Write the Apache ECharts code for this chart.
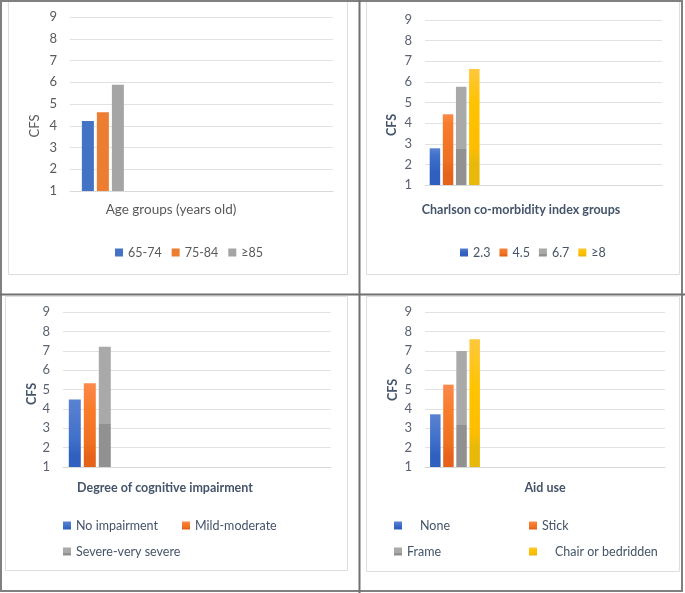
<!DOCTYPE html>
<html><head><meta charset="utf-8">
<script src="https://cdn.jsdelivr.net/npm/echarts@6/dist/echarts.min.js"></script>
<style>html,body{margin:0;padding:0;background:#fff}#c{width:685px;height:593px}</style>
</head><body><div id="c"></div>
<script>
// ---- data ----
const yTicks = [1, 2, 3, 4, 5, 6, 7, 8, 9];
const yName = 'CFS';
const ageGroups = ['65-74', '75-84', '≥85'];
const ageCFS = [4.22, 4.62, 5.88];
const charlsonGroups = ['2.3', '4.5', '6.7', '≥8'];
const charlsonCFS = [2.78, 4.43, 5.76, 6.63];
const cognitiveGroups = ['No impairment', 'Mild-moderate', 'Severe-very severe'];
const cognitiveCFS = [4.48, 5.32, 7.21];
const aidGroups = ['None', 'Stick', 'Frame', 'Chair or bedridden'];
const aidCFS = [3.72, 5.25, 6.99, 7.59];
const panelTitles = ['Age groups (years old)', 'Charlson co-morbidity index groups', 'Degree of cognitive impairment', 'Aid use'];

// ---- styling / layout ----
const FONT = 'Lato';
const BASE = yTicks[0];
const flatColors = ['#4472c4', '#ed7d31', '#a5a5a5', '#ffc000'];
// banded looks (value level -> colour, top to bottom)
function bands(kind, v, grayStep) {
  const lv = {
    0: [[v, '#5a82d2'], [2.4, '#4070ca'], [1.6, '#2f60bf'], [BASE, '#2f60bf']],
    1: [[v, '#fa8a4c'], [4.0, '#f97c2c'], [2.2, '#ee7020'], [1.5, '#e5621a'], [BASE, '#e5621a']],
    2: [[v, '#a9a9a9'], [grayStep + 0.001, '#a9a9a9'], [grayStep, '#919191'], [BASE, '#919191']],
    3: [[v, '#ffc83c'], [5.0, '#ffc300'], [2.8, '#ffbd00'], [2.1, '#e9b909'], [BASE, '#e9b909']]
  }[kind];
  return {
    type: 'linear', x: 0, y: 0, x2: 0, y2: 1,
    colorStops: lv.map(([l, c]) => ({ offset: Math.min(1, Math.max(0, (v - l) / (v - BASE))), color: c }))
  };
}

const panels = [
  { groups: ageGroups, values: ageCFS, slots: 4, grid: { left: 70, right: 352, top: 17, bottom: 402 }, barW: 12, banded: false,
    yColor: '#595959', nameBold: false, namePos: [35, 126] },
  { groups: charlsonGroups, values: charlsonCFS, slots: 4, grid: { left: 425, right: 23, top: 20, bottom: 408 }, barW: 10.5, banded: true, gray: 2.73,
    yColor: '#5b6272', nameBold: true, namePos: [392, 125] },
  { groups: cognitiveGroups, values: cognitiveCFS, slots: 5, grid: { left: 63, right: 354, top: 312, bottom: 126 }, barW: 12, banded: true, gray: 3.22,
    yColor: '#5b6272', nameBold: true, namePos: [32, 394] },
  { groups: aidGroups, values: aidCFS, slots: 4, grid: { left: 425, right: 20, top: 312, bottom: 126 }, barW: 10.5, banded: true, gray: 3.15,
    yColor: '#5b6272', nameBold: true, namePos: [393, 390] }
];

const grid = [], xAxis = [], yAxis = [], series = [];
panels.forEach((p, pi) => {
  grid.push(p.grid);
  xAxis.push({
    type: 'category', gridIndex: pi, data: Array.from({ length: p.slots }, () => ''),
    axisLine: { show: true, lineStyle: { color: '#d9d9d9' } }, axisTick: { show: false }, axisLabel: { show: false }
  });
  yAxis.push({
    type: 'value', gridIndex: pi, min: yTicks[0], max: yTicks[yTicks.length - 1], interval: 1,
    axisLine: { show: false }, axisTick: { show: false },
    splitLine: { lineStyle: { color: '#e2e2e2' } },
    axisLabel: { fontSize: 13, color: p.yColor, fontFamily: FONT, margin: 13 }
  });
  p.groups.forEach((g, i) => {
    const v = p.values[i];
    series.push({
      type: 'bar', name: g, xAxisIndex: pi, yAxisIndex: pi,
      barWidth: p.barW, barGap: '25%',
      data: Array.from({ length: p.slots }, (_, k) => (k === 0 ? v : null)),
      itemStyle: { color: p.banded ? bands(i, v, p.gray) : flatColors[i] },
      emphasis: { disabled: true }, animation: false
    });
  });
});

const legBase = { orient: 'horizontal', padding: 0, icon: 'rect', itemWidth: 8, itemHeight: 8, selectedMode: false };
const ts = (c, extra) => Object.assign({ fontSize: 12.5, color: c, fontFamily: FONT }, extra || {});
const legend = [
  Object.assign({}, legBase, { data: ageGroups, left: 115, top: 246, itemGap: 10, textStyle: ts('#595959') }),
  Object.assign({}, legBase, { data: charlsonGroups, left: 460, top: 246, itemGap: 9, textStyle: ts('#44546a') }),
  Object.assign({}, legBase, { data: [cognitiveGroups[0]], left: 63, top: 519, textStyle: ts('#44546a') }),
  Object.assign({}, legBase, { data: [cognitiveGroups[1]], left: 182, top: 519, textStyle: ts('#44546a') }),
  Object.assign({}, legBase, { data: [cognitiveGroups[2]], left: 63, top: 545, textStyle: ts('#44546a') }),
  Object.assign({}, legBase, { data: [aidGroups[0]], left: 394, top: 519, textStyle: ts('#44546a', { padding: [0, 0, 0, 13] }) }),
  Object.assign({}, legBase, { data: [aidGroups[1]], left: 529, top: 519, textStyle: ts('#44546a') }),
  Object.assign({}, legBase, { data: [aidGroups[2]], left: 394, top: 545, textStyle: ts('#44546a') }),
  Object.assign({}, legBase, { data: [aidGroups[3]], left: 529, top: 545, textStyle: ts('#44546a', { padding: [0, 0, 0, 13] }) })
];

const titlePos = [[171, 210, false], [521, 210, true], [165, 488, true], [545, 488, true]];
const graphic = [
  // inner chart-area boxes
  { type: 'rect', shape: { x: 8.5, y: 1.5, width: 339, height: 273 }, style: { fill: 'none', stroke: '#dedede', lineWidth: 1 }, silent: true },
  { type: 'rect', shape: { x: 366.5, y: 1.5, width: 313, height: 273 }, style: { fill: 'none', stroke: '#dedede', lineWidth: 1 }, silent: true },
  { type: 'rect', shape: { x: 5.5, y: 296.5, width: 342, height: 274 }, style: { fill: 'none', stroke: '#dedede', lineWidth: 1 }, silent: true },
  { type: 'rect', shape: { x: 366.5, y: 296.5, width: 313, height: 275 }, style: { fill: 'none', stroke: '#dedede', lineWidth: 1 }, silent: true },
  // outer frame and dividers
  { type: 'rect', shape: { x: 1, y: 1, width: 681, height: 590 }, style: { fill: 'none', stroke: '#808080', lineWidth: 2 }, silent: true },
  { type: 'line', shape: { x1: 359.5, y1: 0, x2: 359.5, y2: 593 }, style: { stroke: '#707070', lineWidth: 2 }, silent: true },
  { type: 'line', shape: { x1: 0, y1: 294.5, x2: 685, y2: 294.5 }, style: { stroke: '#707070', lineWidth: 2 }, silent: true }
];
panelTitles.forEach((t, i) => {
  const [x, y, bold] = titlePos[i];
  graphic.push({ type: 'text', x, y, silent: true,
    style: { text: t, align: 'center', verticalAlign: 'middle', fill: bold ? '#44546a' : '#595959',
      font: (bold ? 'bold 12.5px ' : '13.5px ') + FONT } });
});
panels.forEach(p => {
  graphic.push({ type: 'text', x: p.namePos[0], y: p.namePos[1], rotation: Math.PI / 2, silent: true,
    style: { text: yName, align: 'center', verticalAlign: 'middle', fill: p.nameBold ? '#44546a' : '#595959',
      font: (p.nameBold ? 'bold 12.5px ' : '13px ') + FONT } });
});

const chart = echarts.init(document.getElementById('c'), null, { renderer: 'canvas' });
chart.setOption({ animation: false, backgroundColor: '#fff', grid, xAxis, yAxis, series, legend, graphic });
</script></body></html>
